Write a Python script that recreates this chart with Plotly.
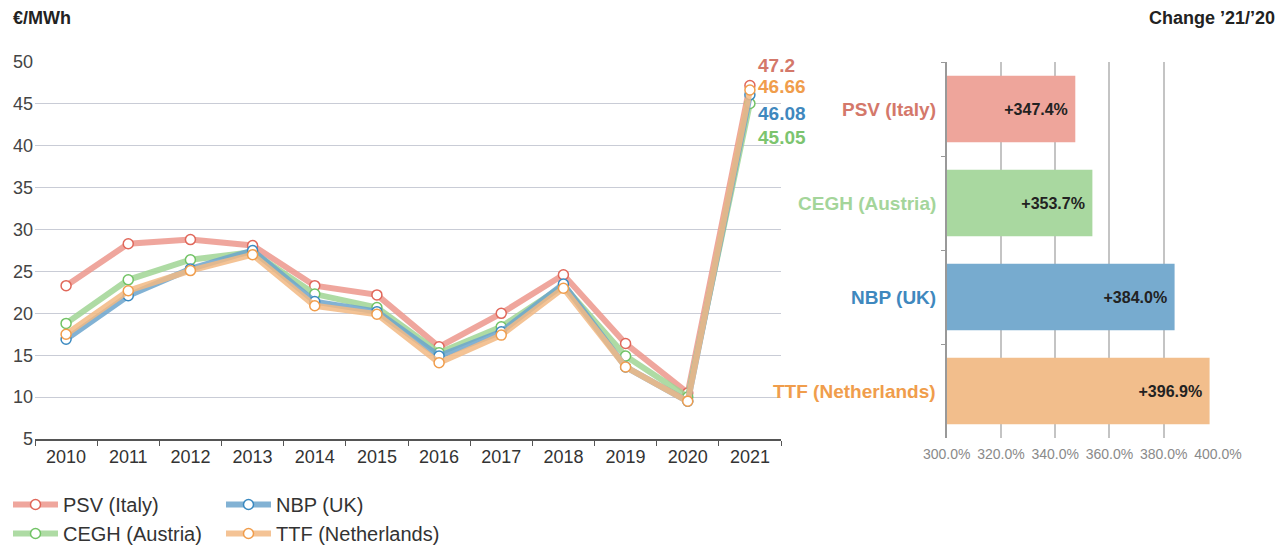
import plotly.graph_objects as go

# the page body has an 8px margin, so the figure sits at (8, 8) in the window
OFF = 8
W, H = 1286 - OFF, 546 - OFF

years = ["2010", "2011", "2012", "2013", "2014", "2015", "2016", "2017", "2018", "2019", "2020", "2021"]
psv = [23.3, 28.3, 28.8, 28.1, 23.3, 22.2, 16.0, 20.0, 24.6, 16.4, 10.5, 47.2]
cegh = [18.8, 24.0, 26.4, 27.3, 22.3, 20.7, 15.3, 18.4, 23.3, 14.9, 10.0, 45.05]
nbp = [16.9, 22.1, 25.3, 27.5, 21.4, 20.2, 14.9, 17.8, 23.5, 13.6, 9.5, 46.08]
ttf = [17.5, 22.7, 25.1, 27.0, 20.9, 19.9, 14.1, 17.4, 23.0, 13.6, 9.5, 46.66]

hubs = ["PSV (Italy)", "CEGH (Austria)", "NBP (UK)", "TTF (Netherlands)"]
change = [347.4, 353.7, 384.0, 396.9]
change_labels = ["+347.4%", "+353.7%", "+384.0%", "+396.9%"]

# order: PSV, CEGH, NBP, TTF
line_cols = ["rgba(236,150,140,0.85)", "rgba(160,213,148,0.85)", "rgba(108,164,205,0.85)", "rgba(242,184,130,0.85)"]
mark_cols = ["#e0675a", "#72c366", "#3a89c0", "#f09d4c"]
bar_cols = ["#eea59b", "#a9d8a0", "#77abcf", "#f2be8c"]
label_cols = ["#d4786a", "#a4d59a", "#3f88be", "#f09d4c"]
end_label_cols = ["#d4786a", "#7cc46f", "#3f88be", "#f09d4c"]
end_shift = [20, -34, -19, 3]

series = [("PSV (Italy)", psv, 0, "legend"), ("CEGH (Austria)", cegh, 1, "legend"),
          ("NBP (UK)", nbp, 2, "legend2"), ("TTF (Netherlands)", ttf, 3, "legend2")]

FONT = "Liberation Sans, Arial, sans-serif"
NARROW = "Liberation Sans Narrow, Liberation Sans, Arial, sans-serif"

fig = go.Figure()
for name, vals, i, leg in series:
    fig.add_trace(go.Scatter(
        x=years, y=vals, name=name, mode="lines+markers",
        line=dict(color=line_cols[i], width=6),
        marker=dict(size=10, color="white", line=dict(color=mark_cols[i], width=1.5)),
        xaxis="x", yaxis="y", legend=leg,
    ))

fig.add_trace(go.Bar(
    y=hubs, x=change, orientation="h", base=0,
    marker=dict(color=bar_cols, line=dict(width=0)),
    text=[f"<b>{t}</b>&nbsp;" for t in change_labels], textposition="inside", insidetextanchor="end",
    textfont=dict(family=FONT, size=16, color="#222222"),
    width=0.71, xaxis="x2", yaxis="y2", showlegend=False, cliponaxis=True,
))

def px_x(p):
    return (p - OFF) / W

def px_y(p):
    return 1 - (p - OFF) / H

fig.update_layout(
    width=W, height=H,
    margin=dict(l=0, r=0, t=0, b=0, autoexpand=False),
    paper_bgcolor="white", plot_bgcolor="white",
    font=dict(family=FONT, color="#333333"),
    xaxis=dict(domain=[px_x(35), px_x(781)], type="category", range=[-0.5, 11.5],
               showline=True, linecolor="#555555", linewidth=2, automargin=False,
               ticks="outside", tickson="boundaries", ticklen=5, tickcolor="#555555",
               tickfont=dict(size=18, color="#333333"), showgrid=False),
    yaxis=dict(domain=[px_y(439), px_y(62)], range=[5, 50], dtick=5, automargin=False,
               showgrid=True, gridcolor="#c9ccd6", gridwidth=1, zeroline=False,
               tickfont=dict(size=18, color="#444444"), ticks="", ticklabelstandoff=1),
    xaxis2=dict(domain=[px_x(946.7), px_x(1218)], range=[300, 400], dtick=20, automargin=False,
                tickformat=".1f", ticksuffix="%", showgrid=True, gridcolor="#c4c4c4",
                gridwidth=1.5, zeroline=False, anchor="y2", ticklabelstandoff=6,
                tickfont=dict(family=NARROW, size=14, color="#8a8a8a")),
    yaxis2=dict(domain=[px_y(438), px_y(62)], anchor="x2", type="category", automargin=False,
                autorange="reversed", showticklabels=False, showline=True,
                linecolor="#999999", linewidth=1.5, ticks="outside", tickson="boundaries",
                ticklen=4, tickcolor="#999999", showgrid=False),
    bargap=0.29,
    legend=dict(x=px_x(8), y=px_y(485), xanchor="left", yanchor="top",
                font=dict(size=20, color="#333333"), tracegroupgap=0,
                itemwidth=45, bgcolor="rgba(0,0,0,0)"),
    legend2=dict(x=px_x(221), y=px_y(485), xanchor="left", yanchor="top",
                 font=dict(size=20, color="#333333"), tracegroupgap=0,
                 itemwidth=45, bgcolor="rgba(0,0,0,0)"),
    showlegend=True,
)

last = len(years) - 1
annotations = [
    dict(text="<b>€/MWh</b>", x=px_x(11), y=px_y(18), xref="paper", yref="paper",
         xanchor="left", yanchor="middle", showarrow=False,
         font=dict(size=18, color="#222222")),
    dict(text="<b>Change ’21/’20</b>", x=px_x(1277), y=px_y(18), xref="paper", yref="paper",
         xanchor="right", yanchor="middle", showarrow=False,
         font=dict(size=18, color="#222222")),
]
for name, vals, i, leg in series:
    annotations.append(dict(
        text=f"<b>{vals[-1]:g}</b>", x=last, y=vals[-1], xref="x", yref="y",
        xanchor="left", yanchor="middle", xshift=6, yshift=end_shift[i], showarrow=False,
        font=dict(size=19, color=end_label_cols[i])))
for i, h in enumerate(hubs):
    annotations.append(dict(
        text=f"<b>{h}</b>", x=px_x(938), y=h, xref="paper", yref="y2",
        xanchor="right", yanchor="middle", showarrow=False,
        font=dict(size=19, color=label_cols[i])))
fig.update_layout(annotations=annotations)

fig.write_html("out.html")
